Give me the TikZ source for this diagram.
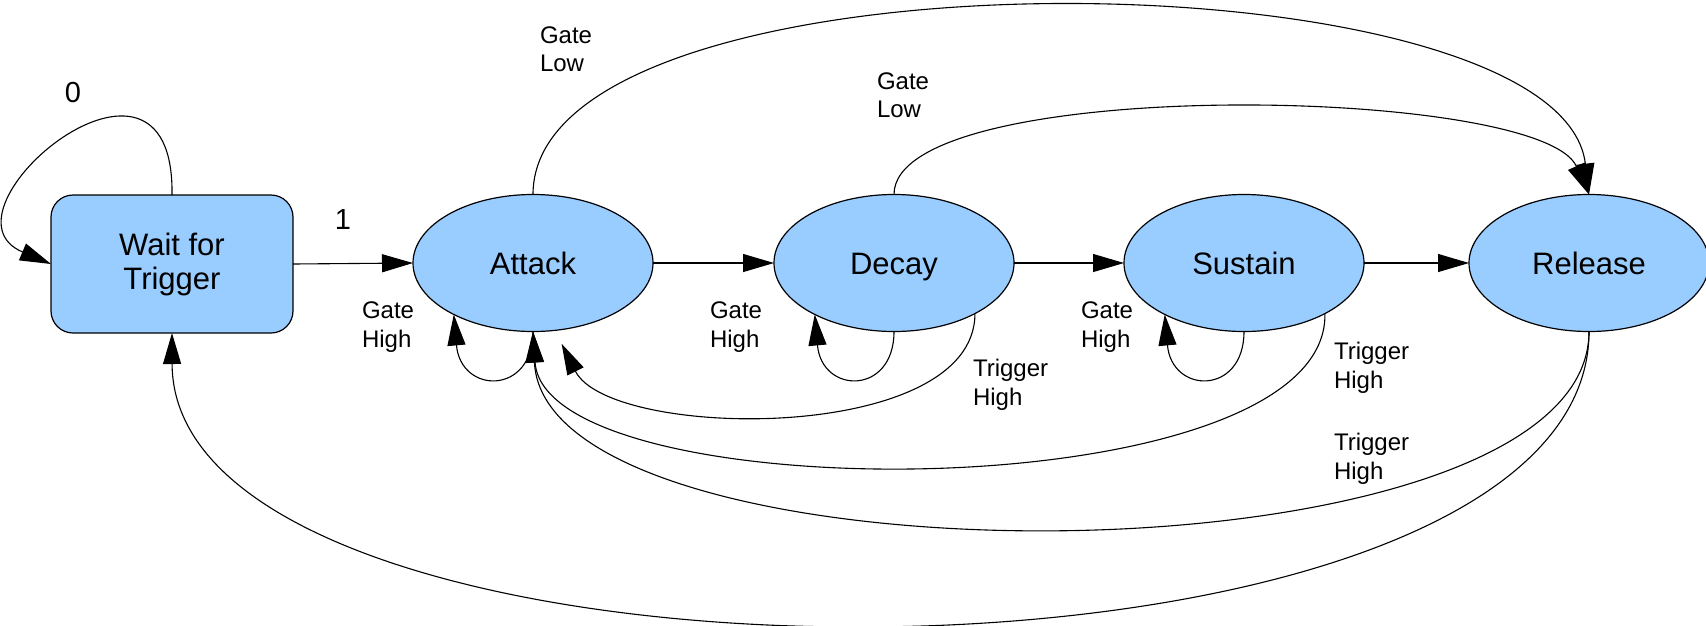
\documentclass[tikz,border=0pt]{standalone}
\usepackage{fontspec}
\setmainfont{Liberation Sans}
\usetikzlibrary{shapes.geometric,arrows.meta}
\definecolor{statefill}{HTML}{99CCFF}
\begin{document}
\begin{tikzpicture}[x=1pt,y=-1pt,
  every node/.style={inner sep=0pt, outer sep=0pt},
  stategfx/.style={draw=black, fill=statefill, line width=1.2pt},
  statebox/.style={stategfx, rectangle, rounded corners=22pt,
    minimum width=242pt, minimum height=138pt, align=center,
    font=\fontsize{31}{34}\selectfont},
  stateell/.style={stategfx, ellipse, minimum width=240pt,
    minimum height=137pt, text height=22pt, text depth=0pt,
    font=\fontsize{31}{34}\selectfont},
  lbl/.style={align=left, anchor=west, font=\fontsize{24}{28.5}\selectfont},
  numlbl/.style={font=\fontsize{29}{34}\selectfont},
  trans/.style={draw=black, line width=1.1pt,
    -{Triangle[length=31pt,width=18pt]}}
]
\fill[white] (0,0) rectangle (1706,625);
\useasboundingbox (0,0) rectangle (1706,625);

% states
\node[statebox] (wait)    at (172,264)  {Wait for\\Trigger};
\node[stateell] (attack)  at (533,263)  {Attack};
\node[stateell] (decay)   at (894,263)  {Decay};
\node[stateell] (sustain) at (1244,263) {Sustain};
\node[stateell] (release) at (1589,263) {Release};

% idle loop and start
\draw[trans] (wait.north) .. controls (175,5) and (-72,212) .. (wait.west);
\draw[trans] (wait.east) -- (attack.west);

% forward chain
\draw[trans] (attack) -- (decay);
\draw[trans] (decay) -- (sustain);
\draw[trans] (sustain) -- (release);

% gate high: stay in state
\draw[trans] (attack.south)  .. controls +(0,64) and +(7,80) .. (attack.213);
\draw[trans] (decay.south)   .. controls +(0,64) and +(7,80) .. (decay.213);
\draw[trans] (sustain.south) .. controls +(0,64) and +(7,80) .. (sustain.213);

% gate low: go to release
\draw[trans] (attack.north) .. controls (533,-60) and (1560,-50) .. (release.north);
\draw[trans] (decay.north) .. controls (894,75) and (1540,85) .. (release.north);

% trigger high: restart attack
\draw[trans, shorten >=15pt] (decay.-32) .. controls (975,445) and (610,440) .. (attack.-72);
\draw[trans] (sustain.-32) .. controls (1329,512) and (545,512) .. (attack.south);
\draw[trans] (release.south) .. controls (1589,592) and (545,592) .. (attack.south);

% release finished: back to idle
\draw[trans] (release.south) .. controls (1589,720) and (173,720) .. (wait.south);

% labels
\node[numlbl] (lzero) at (73,93) {0};
\node[numlbl] (lone)  at (343,220) {1};
\node[lbl] (lgh1) at (362,327)  {Gate\\High};
\node[lbl] (lgh2) at (710,327)  {Gate\\High};
\node[lbl] (lgh3) at (1081,327) {Gate\\High};
\node[lbl] (lth1) at (973,385)  {Trigger\\High};
\node[lbl] (lth2) at (1334,368) {Trigger\\High};
\node[lbl] (lth3) at (1334,459) {Trigger\\High};
\node[lbl] (lgl1) at (540,49)   {Gate\\Low};
\node[lbl] (lgl2) at (877,95)   {Gate\\Low};
\end{tikzpicture}
\end{document}
